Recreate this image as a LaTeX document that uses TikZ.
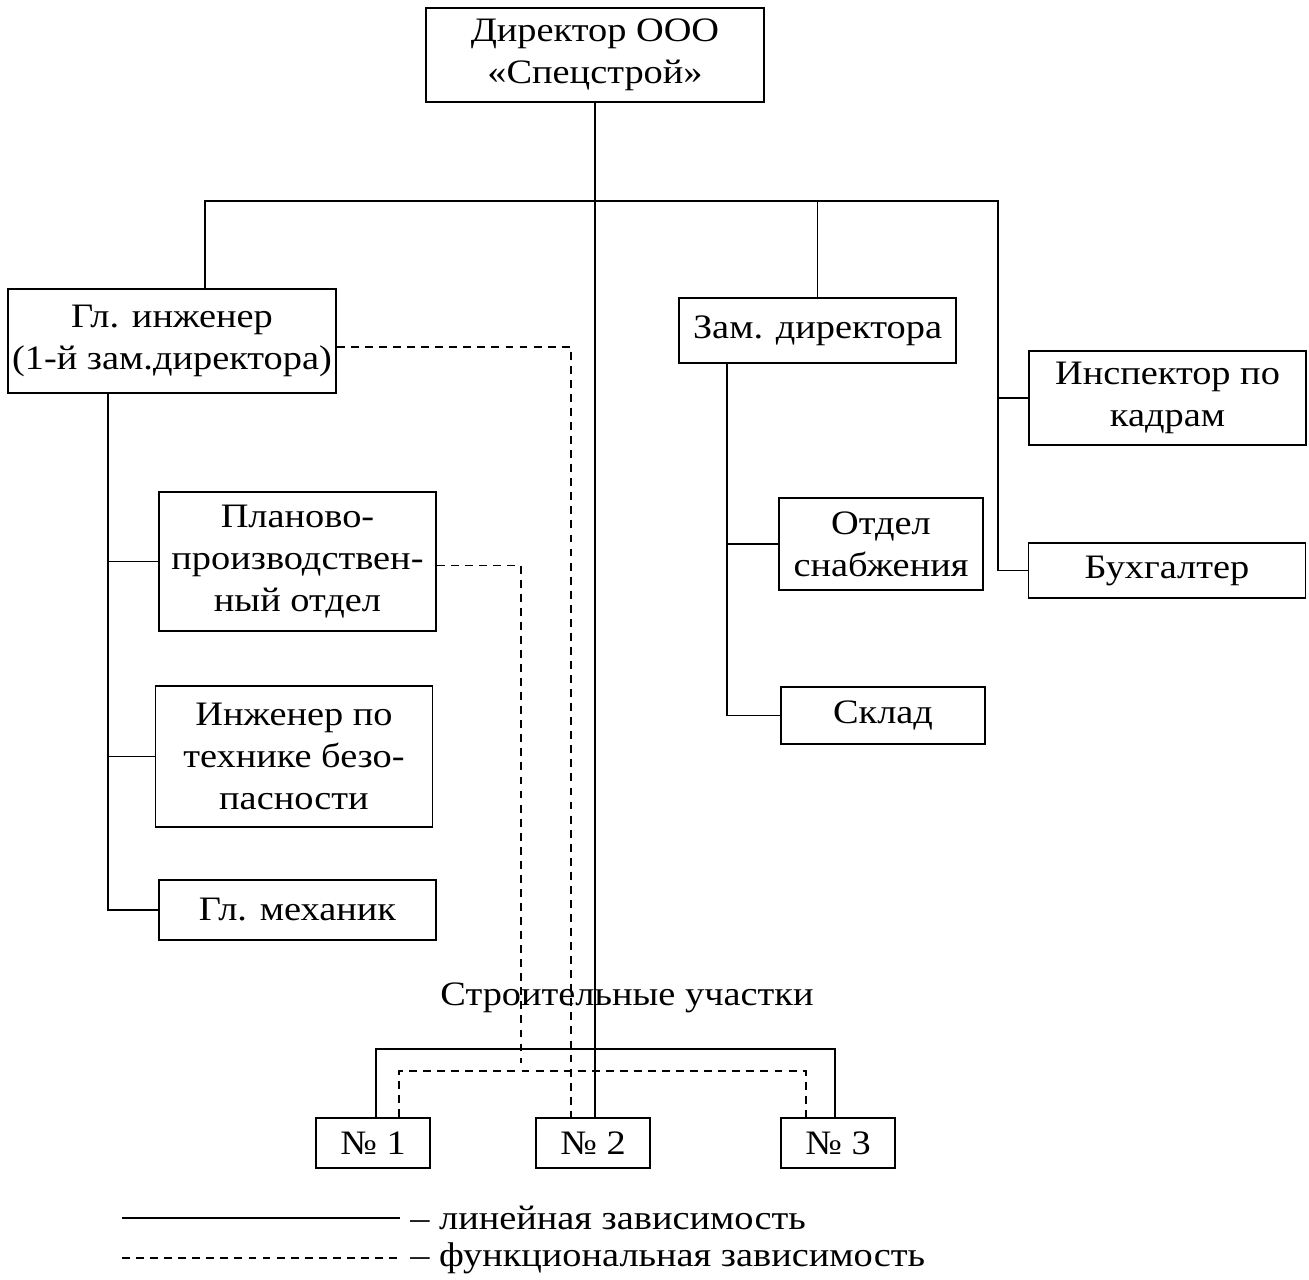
\documentclass[tikz,border=0pt]{standalone}
\usepackage{fontspec}
\setmainfont{Liberation Serif}[FakeStretch=1.12]
\usepackage{tikz}
\usetikzlibrary{positioning,calc}
\tikzset{
  box/.style={draw,line width=1pt,align=center,inner sep=0pt,font=\fontsize{19.5}{24}\selectfont,minimum width=5.54cm},
  lin/.style={draw,line width=1pt},
  func/.style={draw,line width=0.9pt,dash pattern=on 4.5pt off 3.5pt},
  lbl/.style={font=\fontsize{19.5}{24}\selectfont,inner sep=0pt},
}
\begin{document}
\begin{tikzpicture}[x=0.02cm,y=-0.02cm]
  \useasboundingbox (0,0) rectangle (1309,1279);
  % top level
  \node[box,minimum width=6.76cm,minimum height=1.88cm] (dir) at (595,55) {Директор ООО\\«Спецстрой»};
  \node[box,minimum width=6.56cm,minimum height=2.08cm] (gi) at (172,341) {Гл. инженер\\(1-й зам.директора)};
  \node[box,minimum height=1.30cm] (zam) at (817.5,330.5) {Зам. директора};
  \node[box,minimum height=1.88cm] (insp) at (1167.5,398) {Инспектор по\\кадрам};
  \node[box,minimum height=1.10cm] (buh) at (1167,570.5) {Бухгалтер};
  % under deputy
  \node[box,minimum width=4.08cm,minimum height=1.84cm] (otd) at (881,544) {Отдел\\снабжения};
  \node[box,minimum width=4.08cm,minimum height=1.14cm] (sklad) at (883,715.5) {Склад};
  % under chief engineer
  \node[box,minimum height=2.78cm] (plan) at (297.5,561.5) {Планово-\\производствен-\\ный отдел};
  \node[box,minimum height=2.82cm] (ing) at (294,756.5) {Инженер по\\технике безо-\\пасности};
  \node[box,minimum height=1.20cm] (meh) at (297.5,910) {Гл. механик};
  % sites
  \node[lbl] (sites) at (627,998) {Строительные участки};
  \foreach \n/\x in {1/373,2/593,3/838}
    \node[box,minimum width=2.28cm,minimum height=1.0cm] (u\n) at (\x,1143) {№ \n};

  \coordinate (busL) at (205,201);
  \coordinate (busR) at (998,201);
  \coordinate (gtrunk) at (108,0);
  \coordinate (ztrunk) at (727,0);
  \coordinate (ubus) at (0,1049);
  \coordinate (fbus) at (0,1071);
  \coordinate (pend) at (521,1063);

  % linear links
  \draw[lin] (dir.south) -- (dir.south |- u2.north);
  \draw[lin] (busL |- gi.north) -- (busL) -- (busR) |- (buh.west);
  \draw[lin] (zam.north) -- (zam.north |- busL);
  \draw[lin] (insp.west) -- (insp.west -| busR);
  \draw[lin] (gi.south -| gtrunk) |- (meh.west);
  \draw[lin] (plan.west) -- (plan.west -| gtrunk);
  \draw[lin] (ing.west) -- (ing.west -| gtrunk);
  \draw[lin] (zam.south -| ztrunk) |- (sklad.west);
  \draw[lin] (otd.west) -- (otd.west -| ztrunk);
  \draw[lin] ([xshift=0.06cm]u1.north) -- ([xshift=0.06cm]u1.north |- ubus) -- ([xshift=-0.06cm]u3.north |- ubus) -- ([xshift=-0.06cm]u3.north);

  % functional links
  \draw[func] ([yshift=-0.12cm]gi.east) -| ([xshift=-0.44cm]u2.north);
  \draw[func] ([yshift=-0.08cm]plan.east) -| (pend);
  \draw[func] ([xshift=0.52cm]u1.north) -- ([xshift=0.52cm]u1.north |- fbus) -- ([xshift=-0.64cm]u3.north |- fbus) -- ([xshift=-0.64cm]u3.north);

  % legend
  \coordinate (la) at (122,1218);
  \coordinate (lb) at (400,1218);
  \coordinate (fa) at (122,1258);
  \coordinate (fb) at (400,1258);
  \draw[lin] (la) -- (lb);
  \draw[func] (fa) -- (fb);
  \node[lbl,anchor=west] (ltxt) at ([xshift=0.2cm]lb) {– линейная зависимость};
  \node[lbl,anchor=west] (ftxt) at ([xshift=0.2cm]fb) {– функциональная зависимость};
\end{tikzpicture}
\end{document}
